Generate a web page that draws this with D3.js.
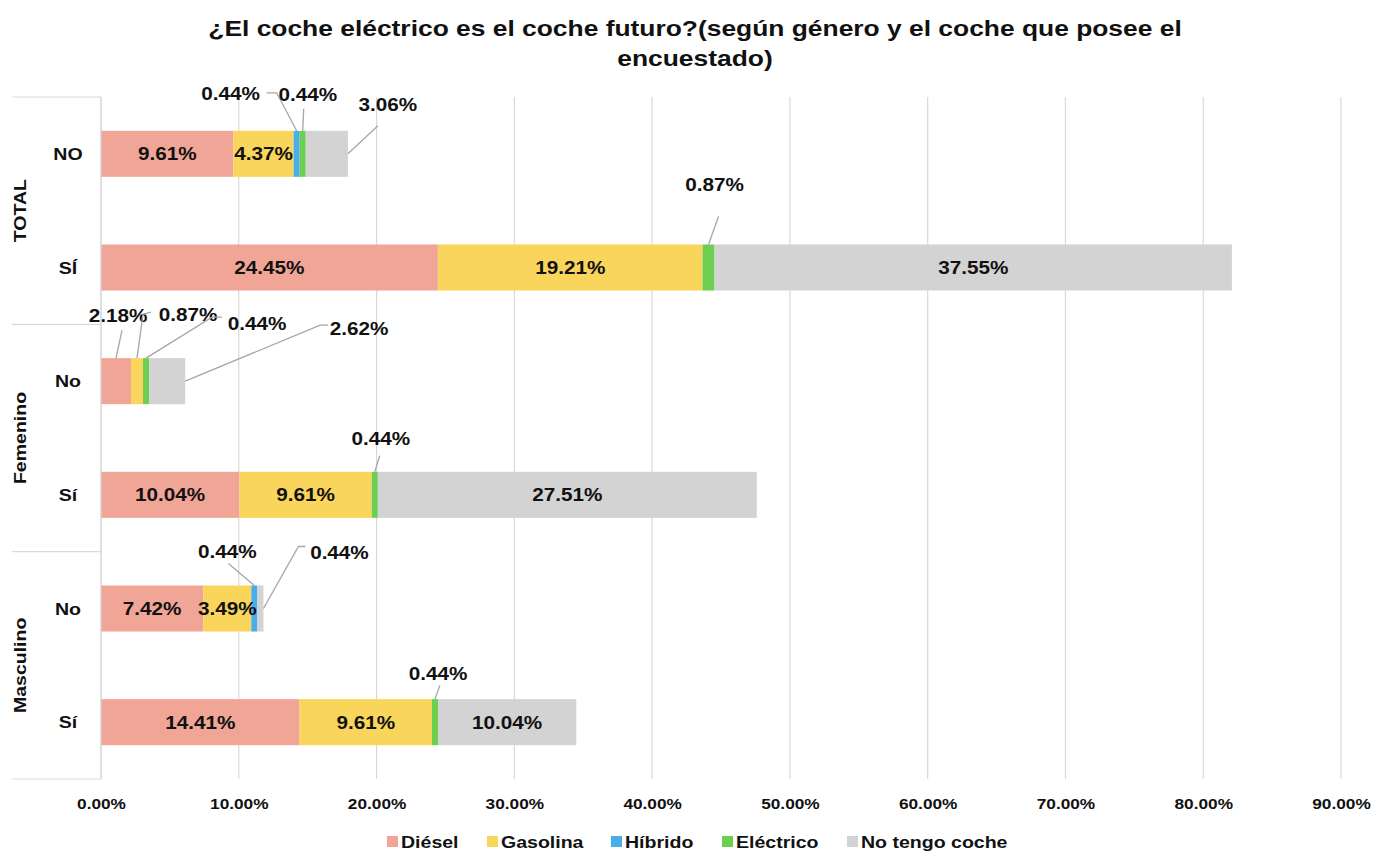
<!DOCTYPE html>
<html><head><meta charset="utf-8">
<script src="https://cdn.jsdelivr.net/npm/d3@7"></script>
<style>
body{margin:0;background:#fff}
text{font-family:"Liberation Sans",Arial,Helvetica,sans-serif;font-weight:bold;fill:#111}
</style></head><body>
<svg id="c" width="1375" height="852"></svg>
<script>
const titleLines = ["¿El coche eléctrico es el coche futuro?(según género y el coche que posee el", "encuestado)"];
const groups = ["TOTAL", "Femenino", "Masculino"];
const rowKeys = ["TOTAL-NO", "TOTAL-SÍ", "Femenino-No", "Femenino-Sí", "Masculino-No", "Masculino-Sí"];
const rowLabels = ["NO", "SÍ", "No", "Sí", "No", "Sí"];
const rowGroups = ["TOTAL", "TOTAL", "Femenino", "Femenino", "Masculino", "Masculino"];
const seriesNames = ["Diésel", "Gasolina", "Híbrido", "Eléctrico", "No tengo coche"];
const diesel    = [9.61, 24.45, 2.18, 10.04, 7.42, 14.41];
const gasolina  = [4.37, 19.21, 0.87, 9.61, 3.49, 9.61];
const hibrido   = [0.44, 0, 0, 0, 0.44, 0];
const electrico = [0.44, 0.87, 0.44, 0.44, 0, 0.44];
const noTengo   = [3.06, 37.55, 2.62, 27.51, 0.44, 10.04];
const xTicks = [0, 10, 20, 30, 40, 50, 60, 70, 80, 90];
const colors = ["#F1A597", "#F9D65B", "#4AADE8", "#6DCF4F", "#D3D3D3"];

// callout layout (row index, series index, anchor type, label offset, leader points)
const callouts = [
  {r:0, s:2, a:"top", lx:-66, ly:-37, pts:[[0,0],[-20,-38],[-30,-38]]},
  {r:0, s:3, a:"top", lx:5, ly:-36, pts:[[0,0],[1,-22]]},
  {r:0, s:4, a:"end", lx:40, ly:-49, pts:[[0,0],[30,-28]]},
  {r:1, s:3, a:"top", lx:6, ly:-60, pts:[[0,0],[10,-28]]},
  {r:2, s:0, a:"top", lx:2, ly:-43, pts:[[0,0],[6,-28]]},
  {r:2, s:1, a:"top", lx:51, ly:-44, pts:[[0,0],[6,-44],[14,-46]]},
  {r:2, s:3, a:"top", lx:111, ly:-35, pts:[[0,0],[66,-41],[76,-41]]},
  {r:2, s:4, a:"end", lx:174, ly:-53, pts:[[0,0],[135,-56],[143,-56]]},
  {r:3, s:3, a:"top", lx:6, ly:-33, pts:[[0,0],[5,-16]]},
  {r:4, s:2, a:"top", lx:-27, ly:-34, pts:[[0,0],[-26,-22]]},
  {r:4, s:4, a:"end", lx:76, ly:-56, pts:[[0,0],[35,-62],[42,-62]]},
  {r:5, s:3, a:"top", lx:3, ly:-26, pts:[[0,0],[5,-14]]}
];

const seriesVals = [diesel, gasolina, hibrido, electrico, noTengo];
const svg = d3.select("#c");
const M = {left:101, right:1341, top:97, bottom:779};
const SX = 1.15;
const place = (px, py, rot) => `translate(${px},${py})` + (rot ? ` rotate(${rot})` : "") + ` scale(${SX},1)`;

const x = d3.scaleLinear().domain([0, 90]).range([M.left, M.right]);
const y = d3.scaleBand().domain(rowKeys).range([M.top, M.bottom]).paddingInner(0.595).paddingOuter(0.2975);

// title
svg.append("g").selectAll("text").data(titleLines).join("text")
  .attr("transform", (d,i) => `translate(695,${36 + i*30}) scale(1.2,1)`)
  .attr("text-anchor", "middle").style("font-size", "22px").text(d => d);

// gridlines
svg.append("g").selectAll("line").data(xTicks).join("line")
  .attr("x1", d => x(d)).attr("x2", d => x(d))
  .attr("y1", M.top).attr("y2", M.bottom)
  .attr("stroke", "#d9d9d9").attr("stroke-width", 1.2);

// x axis labels
const xAxis = d3.axisBottom(x).tickValues(xTicks).tickSize(0).tickPadding(0)
  .tickFormat(d => d3.format(".2f")(d) + "%");
const gx = svg.append("g").attr("transform", `translate(0,${M.bottom + 30})`).call(xAxis);
gx.select(".domain").remove();
gx.selectAll("text").attr("dy", 0).attr("y", 0).attr("transform", `scale(${SX},1)`)
  .style("font-size", "15px").style("font-family", "Liberation Sans, Arial, sans-serif").attr("fill", "#111");

// category separators
const groupBounds = [M.top, (y(rowKeys[1]) + y.bandwidth() + y(rowKeys[2]))/2, (y(rowKeys[3]) + y.bandwidth() + y(rowKeys[4]))/2, M.bottom];
svg.append("g").selectAll("line").data(groupBounds).join("line")
  .attr("x1", 12).attr("x2", M.left).attr("y1", d => d).attr("y2", d => d)
  .attr("stroke", "#d9d9d9").attr("stroke-width", 1.2);

// stacked data
const table = rowKeys.map((k, i) => {
  const o = {key: k};
  seriesNames.forEach((s, j) => o[s] = seriesVals[j][i]);
  return o;
});
const stack = d3.stack().keys(seriesNames)(table);

svg.append("g").selectAll("g").data(stack).join("g")
  .attr("fill", (d,i) => colors[i])
  .selectAll("rect").data(d => d).join("rect")
  .attr("x", d => x(d[0])).attr("width", d => x(d[1]) - x(d[0]))
  .attr("y", d => y(d.data.key)).attr("height", y.bandwidth());

// inside labels
const calloutSet = new Set(callouts.map(c => c.r + "-" + c.s));
const inside = [];
stack.forEach((ser, s) => ser.forEach((d, r) => {
  if (seriesVals[s][r] > 0 && !calloutSet.has(r + "-" + s)) inside.push({d, v: seriesVals[s][r], r});
}));
svg.append("g").selectAll("text").data(inside).join("text")
  .attr("transform", o => place((x(o.d[0]) + x(o.d[1]))/2, y(rowKeys[o.r]) + y.bandwidth()/2))
  .attr("dy", "0.36em").attr("text-anchor", "middle").style("font-size", "18px")
  .text(o => o.v.toFixed(2) + "%");

// callouts
const cg = svg.append("g");
callouts.forEach(c => {
  const seg = stack[c.s][c.r];
  let ax, ay;
  if (c.a === "top") { ax = (x(seg[0]) + x(seg[1]))/2; ay = y(rowKeys[c.r]); }
  else { ax = x(seg[1]); ay = y(rowKeys[c.r]) + y.bandwidth()/2; }
  cg.append("polyline")
    .attr("points", c.pts.map(p => [ax + p[0], ay + p[1]].join(",")).join(" "))
    .attr("fill", "none").attr("stroke", "#a6a6a6").attr("stroke-width", 1.3);
  cg.append("text").attr("transform", place(ax + c.lx, ay + c.ly)).attr("dy", "0.36em")
    .attr("text-anchor", "middle").style("font-size", "18px")
    .text(seriesVals[c.s][c.r].toFixed(2) + "%");
});

// axis line
svg.append("line").attr("x1", M.left).attr("x2", M.left).attr("y1", M.top).attr("y2", M.bottom)
  .attr("stroke", "#d9d9d9").attr("stroke-width", 1.2);

// row labels
svg.append("g").selectAll("text").data(rowKeys).join("text")
  .attr("transform", d => place(68, y(d) + y.bandwidth()/2)).attr("dy", "0.36em")
  .attr("text-anchor", "middle").style("font-size", "17px")
  .text((d,i) => rowLabels[i]);

// group labels
svg.append("g").selectAll("text").data(groups).join("text")
  .attr("transform", (g,i) => place(26, (groupBounds[i] + groupBounds[i+1])/2, -90))
  .attr("text-anchor", "middle").style("font-size", "17px").text(d => d);

// legend
const legendX = [387, 487, 611, 722, 847];
const lg = svg.append("g").selectAll("g").data(seriesNames).join("g")
  .attr("transform", (d,i) => `translate(${legendX[i]},842)`);
lg.append("rect").attr("x", 0).attr("y", -6).attr("width", 11).attr("height", 11).attr("fill", (d,i) => colors[i]);
lg.append("text").attr("transform", place(14, 0)).attr("dy", "0.36em").style("font-size", "17px").text(d => d);
</script></body></html>
